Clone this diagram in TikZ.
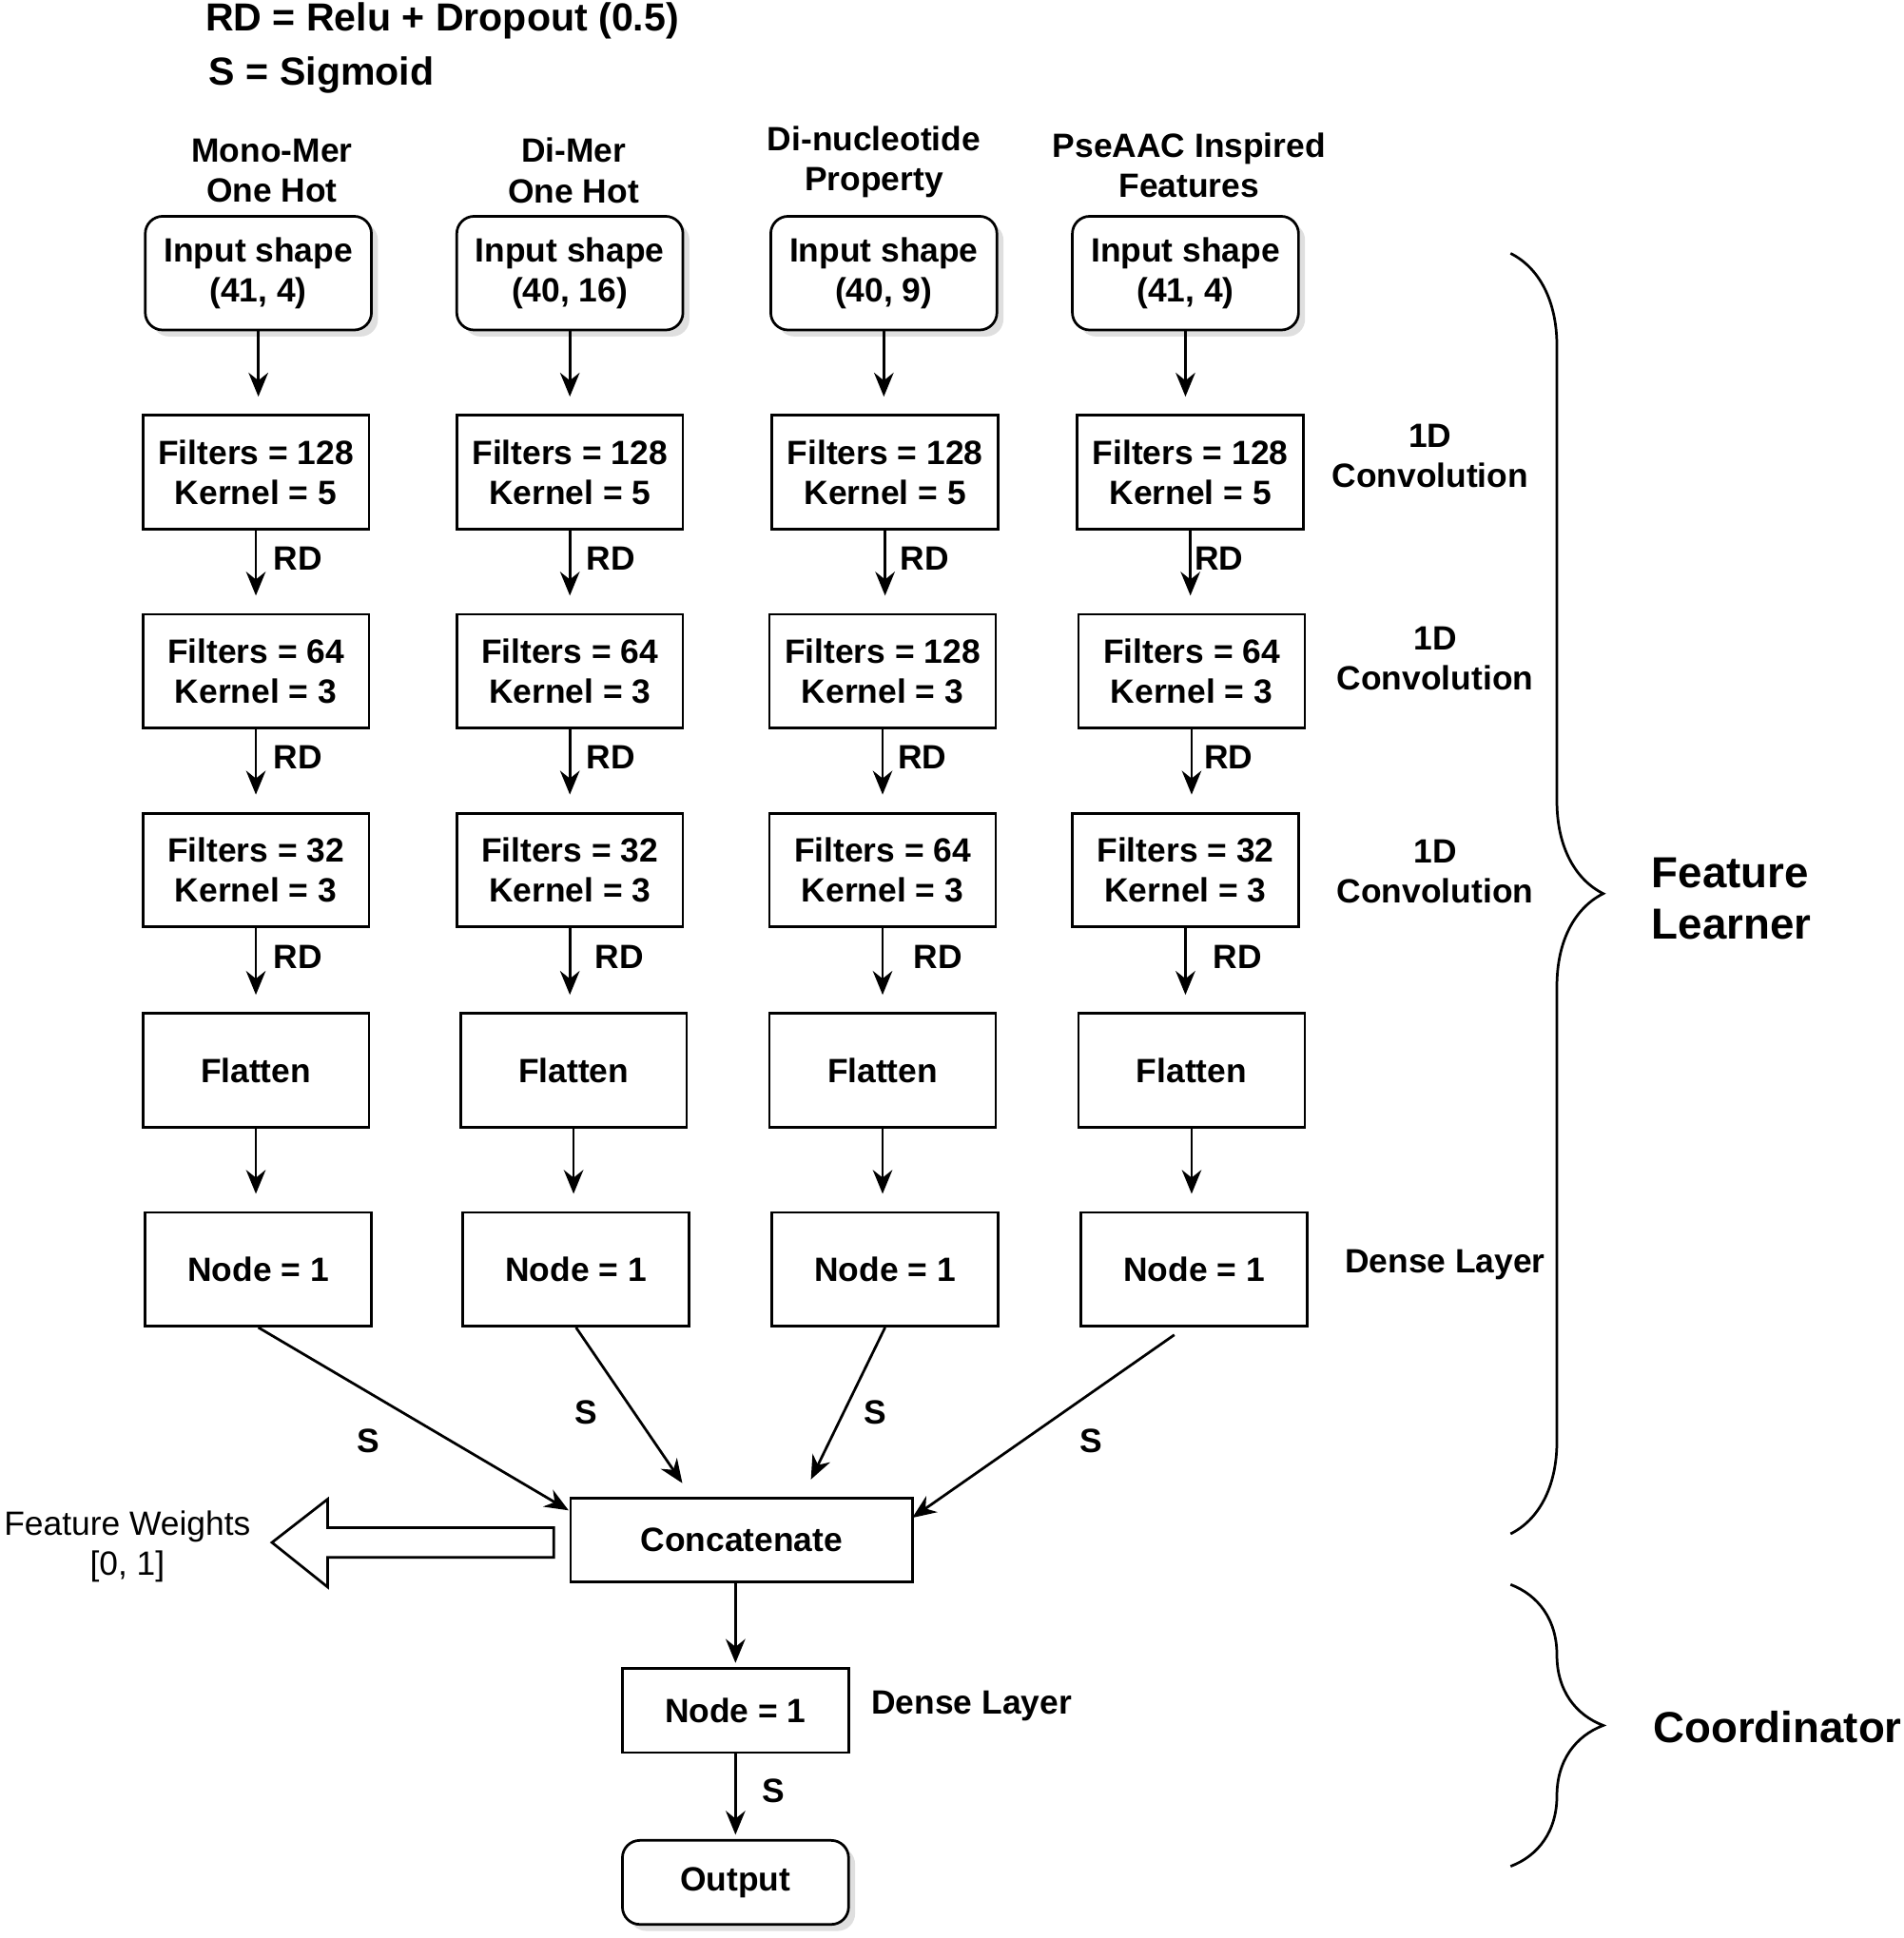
\documentclass[tikz,border=0pt]{standalone}
\usepackage{fontspec}
\setmainfont{Liberation Sans}
\usetikzlibrary{decorations.pathreplacing,calc,shadows,arrows.meta}
\begin{document}
\begin{tikzpicture}[x=0.02cm,y=-0.02cm,
  box/.style={draw,line width=1.2pt,minimum width=3.66cm,minimum height=1.84cm,align=center,font=\fontsize{15.5}{18.5}\selectfont\bfseries,fill=white},
  rbox/.style={box,rounded corners=8pt,drop shadow={shadow xshift=3pt,shadow yshift=-3pt,fill=black!25}},
  arr/.style={line width=1.2pt,-{Stealth[length=11pt,width=9pt]}},
  lab/.style={font=\fontsize{15.5}{18.5}\selectfont\bfseries,align=center},
  big/.style={font=\fontsize{20}{24}\selectfont\bfseries,align=left}]
\useasboundingbox (0,0) rectangle (1540,1568);
\node[lab,font=\fontsize{18}{22}\selectfont\bfseries,anchor=west] (l1) at (160,17) {RD = Relu + Dropout (0.5)};
\node[lab,font=\fontsize{18}{22}\selectfont\bfseries,anchor=west] (l2) at (163,61) {S = Sigmoid};
\node[lab] (h1) at (220,138) {Mono-Mer\\One Hot};
\node[lab] (h2) at (464,138) {Di-Mer\\One Hot};
\node[lab] (h3) at (707,131) {Di-nucleotide\\Property};
\node[lab] (h4) at (962,134) {PseAAC Inspired\\Features};
% inputs
\node[rbox] (i1) at (209,221) {Input shape\\(41, 4)};
\node[rbox] (i2) at (461,221) {Input shape\\(40, 16)};
\node[rbox] (i3) at (715,221) {Input shape\\(40, 9)};
\node[rbox] (i4) at (959,221) {Input shape\\(41, 4)};
\node[box] (a1) at (207,382) {Filters = 128\\Kernel = 5};
\node[box] (a2) at (461,382) {Filters = 128\\Kernel = 5};
\node[box] (a3) at (716,382) {Filters = 128\\Kernel = 5};
\node[box] (a4) at (963,382) {Filters = 128\\Kernel = 5};
\node[box] (b1) at (207,543) {Filters = 64\\Kernel = 3};
\node[box] (b2) at (461,543) {Filters = 64\\Kernel = 3};
\node[box] (b3) at (714,543) {Filters = 128\\Kernel = 3};
\node[box] (b4) at (964,543) {Filters = 64\\Kernel = 3};
\node[box] (c1) at (207,704) {Filters = 32\\Kernel = 3};
\node[box] (c2) at (461,704) {Filters = 32\\Kernel = 3};
\node[box] (c3) at (714,704) {Filters = 64\\Kernel = 3};
\node[box] (c4) at (959,704) {Filters = 32\\Kernel = 3};
\node[box] (f1) at (207,866) {Flatten};
\node[box] (f2) at (464,866) {Flatten};
\node[box] (f3) at (714,866) {Flatten};
\node[box] (f4) at (964,866) {Flatten};
\node[box] (n1) at (209,1027) {Node = 1};
\node[box] (n2) at (466,1027) {Node = 1};
\node[box] (n3) at (716,1027) {Node = 1};
\node[box] (n4) at (966,1027) {Node = 1};
\node[box,minimum width=5.54cm,minimum height=1.36cm] (cc) at (600,1246) {Concatenate};
\node[box,minimum height=1.36cm] (d) at (595,1384) {Node = 1};
\node[rbox,minimum height=1.36cm] (o) at (595,1523) {Output};
% vertical arrows
\foreach \c in {1,2,3,4}{
  \draw[arr,shorten >=8pt] (i\c.south) -- (i\c.south |- a\c.north);
  \draw[arr,shorten >=8pt] (a\c.south) -- (a\c.south |- b\c.north);
  \draw[arr,shorten >=8pt] (b\c.south) -- (b\c.south |- c\c.north);
  \draw[arr,shorten >=8pt] (c\c.south) -- (c\c.south |- f\c.north);
  \draw[arr,shorten >=8pt] (f\c.south) -- (f\c.south |- n\c.north);
}
\foreach \x/\y in {241/452,494/452,748/452,986/452,241/613,494/613,746/613,994/613,241/774,501/774,759/774,1001/774}
  \node[lab] at (\x,\y) {RD};
% S arrows
\coordinate (e1) at (460,1222);
\coordinate (e2) at (552,1200);
\coordinate (e3) at (656,1197);
\coordinate (e4) at (738,1228);
\coordinate (s4) at (950,1080);
\draw[arr] (n1.south) -- (e1);
\draw[arr] (n2.south) -- (e2);
\draw[arr] (n3.south) -- (e3);
\draw[arr] (s4) -- (e4);
\node[lab] at (298,1166) {S};
\node[lab] at (474,1143) {S};
\node[lab] at (708,1143) {S};
\node[lab] at (883,1166) {S};
\draw[arr,shorten >=2pt] (cc.south -| d.north) -- (d.north);
\draw[arr,shorten >=2pt] (d.south) -- (o.north);
\node[lab] at (626,1449) {S};
% hollow arrow
\draw[line width=1.2pt,fill=white] (448,1236) -- (265,1236) -- (265,1213) -- (220,1248) -- (265,1284) -- (265,1260) -- (448,1260) -- cycle;
\node[font=\fontsize{15.5}{18.5}\selectfont,align=center] (fw) at (103,1251) {Feature Weights\\{}[0, 1]};
% side labels
\node[lab] at (1157,369) {1D\\Convolution};
\node[lab] at (1161,533) {1D\\Convolution};
\node[lab] at (1161,705) {1D\\Convolution};
\node[lab] at (1169,1023) {Dense Layer};
\node[lab] at (786,1380) {Dense Layer};
% braces
\draw[line width=1.2pt,decorate,decoration={brace,amplitude=1.5cm}] (1222,205) -- (1222,1241);
\draw[line width=1.2pt,decorate,decoration={brace,amplitude=1.5cm}] (1222,1282) -- (1222,1510);
\node[big,anchor=west] at (1330,727) {Feature\\Learner};
\node[big] at (1438,1397) {Coordinator};
\end{tikzpicture}
\end{document}
